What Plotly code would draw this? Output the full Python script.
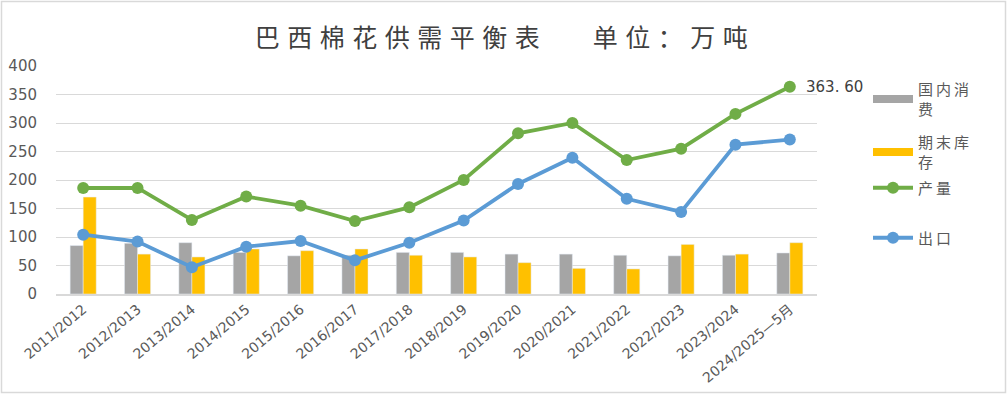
import plotly.graph_objects as go

categories = ["2011/2012", "2012/2013", "2013/2014", "2014/2015", "2015/2016", "2016/2017",
              "2017/2018", "2018/2019", "2019/2020", "2020/2021", "2021/2022", "2022/2023",
              "2023/2024", "2024/2025—5月"]
domestic_consumption = [85, 89, 90, 73, 67, 68, 73, 73, 70, 70, 68, 67, 68, 72]
ending_stocks = [170, 70, 65, 79, 76, 79, 68, 65, 55, 45, 44, 87, 70, 90]
production = [186, 186, 130, 171, 155, 128, 152, 200, 282, 300, 235, 255, 316, 363.6]
exports = [104, 92, 47, 83, 93, 59, 90, 129, 193, 239, 167, 144, 262, 271]

W, H = 1007, 394
L, R, T, B = 56, 190, 66, 100
pw, ph = W - L - R, H - T - B

txt = "#595959"
cjk = "Noto Sans CJK SC"
lat = "DejaVu Sans, Noto Sans CJK SC"
GRAY, GOLD, GREEN, BLUE = "#A5A5A5", "#FFC000", "#70AD47", "#5B9BD5"


def py(px):
    """screen pixel y -> paper y"""
    return (ph + T - px) / ph


def px_(x):
    return (x - L) / pw


def lg(name):
    return '<span style="letter-spacing:3px">' + name + '</span>'


fig = go.Figure()
fig.add_trace(go.Bar(x=categories, y=domestic_consumption, name="国内消费",
                     marker_color=GRAY, showlegend=False))
fig.add_trace(go.Bar(x=categories, y=ending_stocks, name="期末库存",
                     marker_color=GOLD, showlegend=False))
# legend proxies drawn as flat wide swatches (like the reference)
fig.add_trace(go.Scatter(x=[None], y=[None], mode="lines", name=lg("国内消<br>费"),
                         line=dict(color=GRAY, width=8), legend="legend"))
fig.add_trace(go.Scatter(x=[None], y=[None], mode="lines", name=lg("期末库<br>存"),
                         line=dict(color=GOLD, width=8), legend="legend2"))
fig.add_trace(go.Scatter(x=categories, y=production, name=lg("产量"), mode="lines+markers",
                         line=dict(color=GREEN, width=3.8), marker=dict(size=12),
                         legend="legend3"))
fig.add_trace(go.Scatter(x=categories, y=exports, name=lg("出口"), mode="lines+markers",
                         line=dict(color=BLUE, width=3.8), marker=dict(size=12),
                         legend="legend4"))

fig.add_annotation(x=categories[-1], y=production[-1], text="363. 60", showarrow=False,
                   xanchor="left", xshift=14, font=dict(size=15, color="#404040", family=lat))

fig.add_shape(type="rect", xref="paper", yref="paper",
              x0=px_(1.5), x1=px_(W - 1.5), y0=py(H - 1.5), y1=py(1.5),
              line=dict(color="#D9D9D9", width=1.5), layer="below")

legend_common = dict(xanchor="left", yanchor="middle",
                     font=dict(size=15, color=txt, family=cjk),
                     itemwidth=40, bgcolor="rgba(0,0,0,0)")

fig.update_layout(
    width=W, height=H,
    margin=dict(l=L, r=R, t=T, b=B, autoexpand=False),
    paper_bgcolor="white", plot_bgcolor="white",
    title=dict(text='<span style="letter-spacing:7.5px">巴西棉花供需平衡表　 单位：万吨</span>',
               x=px_(505), xref="paper", xanchor="center",
               y=1 - 38 / H, yanchor="middle",
               font=dict(size=25, color="#404040", family=cjk)),
    barmode="group", bargap=0.52, bargroupgap=0,
    showlegend=True,
    legend=dict(x=px_(868), y=py(99), **legend_common),
    legend2=dict(x=px_(868), y=py(152), **legend_common),
    legend3=dict(x=px_(868), y=py(188), **legend_common),
    legend4=dict(x=px_(868), y=py(238), **legend_common),
    xaxis=dict(range=[-0.5, len(categories) - 0.5], tickangle=-40,
               tickfont=dict(size=14, color=txt, family=lat),
               showline=True, linecolor="#D9D9D9", linewidth=1.5, ticks="",
               automargin=False),
    yaxis=dict(range=[0, 400], dtick=50, showgrid=True, gridcolor="#D9D9D9", gridwidth=1.2,
               zeroline=False, tickfont=dict(size=15, color=txt, family=lat),
               ticklabelstandoff=18, automargin=False),
)

fig.write_html("out.html", config={"displayModeBar": False},
               post_script="document.body.style.margin='0';")
